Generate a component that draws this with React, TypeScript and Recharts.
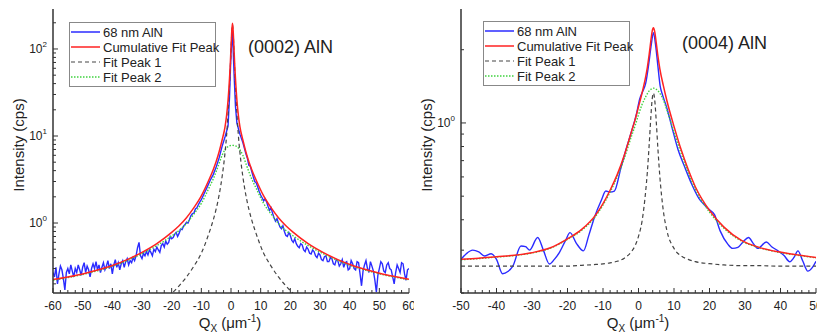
import React from "react";
import { LineChart, Line, XAxis, YAxis } from "recharts";

// ---- (0002) AlN panel ----
const fitAX = [-60, -55, -50, -45, -40, -35, -30, -25, -20, -17.5, -15, -12.5, -10, -7.5, -6, -5, -4, -3, -2, -1.5, -1, -0.5, -0.25, 0, 0.25, 0.5, 0.75, 1, 1.25, 1.5, 2, 2.5, 3, 4, 5, 6, 7, 8.5, 11, 13.5, 16, 18.5, 21, 26, 31, 36, 41, 46, 51, 56, 60];
const fitAPeak1 = [0.026, 0.03, 0.036, 0.043, 0.05, 0.062, 0.082, 0.11, 0.155, 0.19, 0.24, 0.32, 0.45, 0.75, 1.08, 1.45, 2.1, 3.4, 6.5, 10, 18, 38, 58, 95, 150, 190, 150, 95, 58, 38, 18, 10, 6.5, 3.4, 2.1, 1.45, 1.08, 0.75, 0.45, 0.32, 0.24, 0.19, 0.155, 0.11, 0.082, 0.062, 0.05, 0.043, 0.036, 0.03, 0.027];
const fitAPeak2 = [0.219, 0.236, 0.256, 0.283, 0.318, 0.37, 0.445, 0.55, 0.71, 0.82, 0.99, 1.27, 1.68, 2.5, 3.2, 3.9, 4.85, 6.0, 6.95, 7.3, 7.55, 7.7, 7.75, 7.78, 7.8, 7.8, 7.8, 7.78, 7.75, 7.7, 7.55, 7.3, 6.95, 6.0, 4.85, 3.9, 3.2, 2.5, 1.68, 1.27, 0.99, 0.82, 0.71, 0.55, 0.445, 0.37, 0.318, 0.283, 0.256, 0.236, 0.222];
const fitACum = [0.224, 0.24, 0.26, 0.288, 0.325, 0.38, 0.46, 0.58, 0.78, 0.93, 1.15, 1.5, 2.05, 3.1, 4.1, 5.1, 6.6, 9.0, 12.8, 17, 25.5, 46, 66, 103, 158, 198, 158, 103, 66, 46, 25.5, 17, 12.8, 9.0, 6.6, 5.1, 4.1, 3.1, 2.05, 1.5, 1.15, 0.93, 0.78, 0.58, 0.46, 0.38, 0.325, 0.288, 0.26, 0.24, 0.226];

const dataAX = [
  -60, -59.5, -59, -58.5, -58, -57.5, -57, -56.5, -56, -55.5,
  -55, -54.5, -54, -53.5, -53, -52.5, -52, -51.5, -51, -50.5,
  -50, -49.5, -49, -48.5, -48, -47.5, -47, -46.5, -46, -45.5,
  -45, -44.5, -44, -43.5, -43, -42.5, -42, -41.5, -41, -40.5,
  -40, -39.5, -39, -38.5, -38, -37.5, -37, -36.5, -36, -35.5,
  -35, -34.5, -34, -33.5, -33, -32.5, -32, -31.5, -31, -30.5,
  -30, -29.5, -29, -28.5, -28, -27.5, -27, -26.5, -26, -25.5,
  -25, -24.5, -24, -23.5, -23, -22.5, -22, -21.5, -21, -20.5,
  -20, -19.5, -19, -18.5, -18, -17.5, -17, -16.5, -16, -15.5,
  -15, -14.5, -14, -13.5, -13, -12.5, -12, -11.5, -11, -10.5,
  -10, -9, -8, -7, -6, -5, -4, -3, -2, -1,
  -0.5, 0, 0.5, 1, 1.5, 2, 3, 4, 5, 5.5,
  6, 6.5, 7, 7.5, 8, 8.5, 9, 9.5, 10, 10.5,
  11, 11.5, 12, 12.5, 13, 13.5, 14, 14.5, 15, 15.5,
  16, 16.5, 17, 17.5, 18, 18.5, 19, 19.5, 20, 20.5,
  21, 21.5, 22, 22.5, 23, 23.5, 24, 24.5, 25, 25.5,
  26, 26.5, 27, 27.5, 28, 28.5, 29, 29.5, 30, 30.5,
  31, 31.5, 32, 32.5, 33, 33.5, 34, 34.5, 35, 35.5,
  36, 36.5, 37, 37.5, 38, 38.5, 39, 39.5, 40, 40.5,
  41, 41.5, 42, 42.5, 43, 43.5, 44, 44.5, 45, 45.5,
  46, 46.5, 47, 47.5, 48, 48.5, 49, 49.5, 50, 50.5,
  51, 51.5, 52, 52.5, 53, 53.5, 54, 54.5, 55, 55.5,
  56, 56.5, 57, 57.5, 58, 58.5, 59, 59.5, 60,
];
const dataAY = [
  0.27, 0.24, 0.31, 0.2, 0.26, 0.32, 0.29, 0.23, 0.17, 0.27,
  0.3, 0.26, 0.33, 0.28, 0.24, 0.3, 0.27, 0.33, 0.29, 0.25,
  0.31, 0.35, 0.27, 0.32, 0.29, 0.24, 0.3, 0.34, 0.3, 0.36,
  0.29, 0.33, 0.27, 0.31, 0.35, 0.29, 0.32, 0.37, 0.3, 0.34,
  0.26, 0.33, 0.38, 0.31, 0.35, 0.29, 0.34, 0.37, 0.31, 0.36,
  0.39, 0.33, 0.37, 0.35, 0.4, 0.37, 0.42, 0.52, 0.6, 0.42,
  0.39, 0.45, 0.42, 0.47, 0.43, 0.49, 0.46, 0.42, 0.5, 0.47,
  0.53, 0.49, 0.46, 0.55, 0.58, 0.53, 0.62, 0.57, 0.6, 0.7,
  0.66, 0.68, 0.74, 0.78, 0.7, 0.76, 0.85, 0.84, 0.92, 0.96,
  1.02, 1.0, 1.1, 1.22, 1.28, 1.3, 1.45, 1.5, 1.62, 1.75,
  1.85, 2.2, 2.6, 3.1, 3.6, 4.4, 5.6, 7.6, 9.8, 13,
  28, 90, 160, 55, 22, 14, 10.5, 8.4, 6.3, 5.6,
  4.6, 4.5, 3.9, 3.4, 3.0, 2.9, 2.6, 2.3, 2.1, 1.95,
  1.8, 1.9, 1.75, 1.55, 1.4, 1.5, 1.3, 1.15, 1.05, 1.12,
  1.0, 0.9, 0.86, 0.93, 0.8, 0.72, 0.7, 0.78, 0.72, 0.63,
  0.6, 0.66, 0.58, 0.54, 0.52, 0.58, 0.56, 0.49, 0.47, 0.53,
  0.5, 0.45, 0.44, 0.49, 0.47, 0.42, 0.4, 0.45, 0.43, 0.38,
  0.37, 0.41, 0.42, 0.36, 0.36, 0.4, 0.39, 0.34, 0.33, 0.38,
  0.37, 0.32, 0.34, 0.38, 0.31, 0.35, 0.36, 0.29, 0.3, 0.37,
  0.34, 0.3, 0.29, 0.36, 0.35, 0.26, 0.19, 0.28, 0.33, 0.37,
  0.3, 0.27, 0.36, 0.32, 0.28, 0.22, 0.16, 0.25, 0.3, 0.36,
  0.34, 0.28, 0.27, 0.33, 0.35, 0.3, 0.29, 0.24, 0.2, 0.27,
  0.33, 0.3, 0.27, 0.35, 0.34, 0.26, 0.22, 0.29, 0.3,
];

// ---- (0004) AlN panel ----
const fitBX = [-50, -45, -40, -35, -30, -25, -20, -16, -12, -8, -6, -4, -2, -1, 0, 1, 2, 2.5, 3, 3.5, 3.8, 4.2, 4.6, 5, 5.5, 6, 7, 8, 10, 12, 14, 16, 20, 24, 29, 34, 39, 44, 50];
const fitBPeak1 = [0.258, 0.258, 0.258, 0.258, 0.258, 0.258, 0.258, 0.26, 0.262, 0.266, 0.27, 0.278, 0.296, 0.312, 0.342, 0.395, 0.52, 0.63, 0.81, 1.07, 1.23, 1.327, 1.23, 1.015, 0.77, 0.606, 0.435, 0.361, 0.305, 0.284, 0.275, 0.269, 0.264, 0.261, 0.259, 0.259, 0.258, 0.258, 0.258];
const fitBPeak2 = [0.274, 0.277, 0.281, 0.285, 0.292, 0.305, 0.332, 0.362, 0.415, 0.52, 0.6, 0.715, 0.88, 0.97, 1.08, 1.19, 1.28, 1.32, 1.355, 1.375, 1.385, 1.39, 1.385, 1.375, 1.355, 1.325, 1.245, 1.13, 0.92, 0.75, 0.625, 0.535, 0.43, 0.37, 0.327, 0.307, 0.295, 0.287, 0.279];
const fitBCum = [0.275, 0.278, 0.282, 0.286, 0.293, 0.306, 0.334, 0.365, 0.42, 0.529, 0.613, 0.736, 0.919, 1.025, 1.165, 1.328, 1.543, 1.693, 1.908, 2.188, 2.358, 2.46, 2.358, 2.133, 1.868, 1.674, 1.423, 1.234, 0.968, 0.777, 0.643, 0.547, 0.437, 0.374, 0.329, 0.308, 0.296, 0.288, 0.28];

const dataBX = [-50, -48.5, -46.7, -45, -43.4, -41.5, -40, -38.3, -36.8, -35.4, -33.1, -31.8, -30.7, -28.4, -26.8, -25.1, -23.7, -22.3, -20.5, -19.3, -17.5, -15.5, -14, -12.4, -10.5, -9.2, -8, -6.8, -5, -3.5, -2, -0.5, 0.3, 1.2, 2, 3, 3.6, 4.2, 4.8, 5.4, 6.1, 6.8, 8, 9.5, 11.1, 13, 15, 17, 18.6, 20, 21.4, 23, 25.2, 26.5, 28, 29.5, 31, 32.3, 33.6, 36, 37.5, 39.3, 41, 42.6, 43.8, 44.9, 46.3, 47.7, 49, 50];
const dataBY = [0.275, 0.29, 0.3, 0.295, 0.284, 0.29, 0.275, 0.24, 0.245, 0.258, 0.312, 0.31, 0.3, 0.338, 0.3, 0.263, 0.275, 0.293, 0.33, 0.354, 0.32, 0.298, 0.345, 0.41, 0.48, 0.525, 0.52, 0.525, 0.65, 0.78, 0.92, 1.1, 1.25, 1.35, 1.45, 1.8, 2.1, 2.35, 2.1, 1.75, 1.42, 1.3, 1.15, 0.95, 0.78, 0.66, 0.56, 0.49, 0.46, 0.44, 0.42, 0.36, 0.317, 0.305, 0.308, 0.325, 0.338, 0.32, 0.305, 0.324, 0.31, 0.298, 0.285, 0.269, 0.28, 0.298, 0.27, 0.246, 0.255, 0.27];

const xMajorsA = [-60, -50, -40, -30, -20, -10, 0, 10, 20, 30, 40, 50, 60];
const xMajorsB = [-50, -40, -30, -20, -10, 0, 10, 20, 30, 40, 50];
const yMajors = [1, 10, 100];
const legendLabels = ["68 nm AlN", "Cumulative Fit Peak", "Fit Peak 1", "Fit Peak 2"];

const AXIS_COLOR = "#333";
const TEXT_COLOR = "#222";
const FONT = "'Liberation Sans', Arial, sans-serif";
const BLUE = "#2b2bff";
const RED = "#ff2222";
const GREEN = "#3fd23f";
const DASHED = "#444";

const legendStyles = [
  { color: BLUE, dash: undefined, w: 1.5 },
  { color: RED, dash: undefined, w: 1.5 },
  { color: DASHED, dash: "4 3", w: 1.2 },
  { color: GREEN, dash: "1.5 1.5", w: 1.4 },
];

const toRows = (xs: number[], ys: number[]) => xs.map((x, i) => ({ x, y: ys[i] }));

const stepTicks = (lo: number, hi: number, step: number) => {
  const out: number[] = [];
  for (let v = lo; v <= hi + 1e-9; v += step) out.push(Math.round(v * 100) / 100);
  return out;
};

const logTicks = (lo: number, hi: number) => {
  const out: number[] = [];
  for (const dec of [0.1, 1, 10, 100]) {
    for (let m = 1; m <= 9; m++) {
      const v = +(dec * m).toPrecision(3);
      if (v >= lo && v <= hi) out.push(v);
    }
  }
  return out;
};

const makeXTick = (side: "bottom" | "top", majors: number[]) => (props: any) => {
  const { x, y, payload } = props;
  const v = payload.value;
  const major = majors.includes(v);
  const len = major ? 5 : 3;
  const dir = side === "bottom" ? -1 : 1;
  return (
    <g>
      <line x1={x} x2={x} y1={y} y2={y + dir * len} stroke={AXIS_COLOR} strokeWidth={1} />
      {side === "bottom" && major && (
        <text x={x} y={y + 17} textAnchor="middle" fontSize={12} fontFamily={FONT} fill={TEXT_COLOR}>
          {v}
        </text>
      )}
    </g>
  );
};

const makeYTick = (side: "left" | "right", majors: number[]) => (props: any) => {
  const { x, y, payload } = props;
  const v = payload.value;
  const major = majors.includes(v);
  const len = major ? 5 : 3;
  const dir = side === "left" ? 1 : -1;
  return (
    <g>
      <line x1={x} x2={x + dir * len} y1={y} y2={y} stroke={AXIS_COLOR} strokeWidth={1} />
      {side === "left" && major && (
        <text x={x - 6} y={y + 4} textAnchor="end" fontSize={12} fontFamily={FONT} fill={TEXT_COLOR}>
          10
          <tspan dy={-6} fontSize={8}>
            {Math.round(Math.log10(v))}
          </tspan>
        </text>
      )}
    </g>
  );
};

interface PanelProps {
  width: number;
  yAxisWidth: number;
  marginRight: number;
  xDomain: [number, number];
  xStep: number;
  xMajors: number[];
  yDomain: [number, number];
  fitX: number[];
  peak1: number[];
  peak2: number[];
  cum: number[];
  dataX: number[];
  dataY: number[];
  smooth: boolean;
}

function Panel(p: PanelProps) {
  const xTicks = stepTicks(p.xDomain[0], p.xDomain[1], p.xStep);
  const yTicks = logTicks(p.yDomain[0], p.yDomain[1]);
  const axisLine = { stroke: AXIS_COLOR, strokeWidth: 1.5 };
  return (
    <LineChart width={p.width} height={333} margin={{ top: 9, right: p.marginRight, bottom: 0, left: 0 }}>
      <XAxis xAxisId="b" dataKey="x" type="number" domain={p.xDomain} ticks={xTicks} interval={0}
        allowDataOverflow height={40} tickSize={0} tickMargin={0} tickLine={false} axisLine={axisLine}
        tick={makeXTick("bottom", p.xMajors)} />
      <XAxis xAxisId="t" orientation="top" dataKey="x" type="number" domain={p.xDomain} ticks={xTicks} interval={0}
        allowDataOverflow height={0} tickSize={0} tickMargin={0} tickLine={false} axisLine={axisLine}
        tick={makeXTick("top", p.xMajors)} />
      <YAxis yAxisId="l" type="number" scale="log" domain={p.yDomain} ticks={yTicks} interval={0}
        allowDataOverflow width={p.yAxisWidth} tickSize={0} tickMargin={0} tickLine={false} axisLine={axisLine}
        tick={makeYTick("left", yMajors)} />
      <YAxis yAxisId="r" orientation="right" type="number" scale="log" domain={p.yDomain} ticks={yTicks} interval={0}
        allowDataOverflow width={0} tickSize={0} tickMargin={0} tickLine={false} axisLine={axisLine}
        tick={makeYTick("right", yMajors)} />
      <Line xAxisId="b" yAxisId="l" data={toRows(p.dataX, p.dataY)} dataKey="y"
        type={p.smooth ? "monotone" : "linear"} stroke={BLUE} strokeWidth={1.4} dot={false} isAnimationActive={false} />
      <Line xAxisId="b" yAxisId="l" data={toRows(p.fitX, p.peak2)} dataKey="y" type="monotone"
        stroke={GREEN} strokeWidth={1.4} strokeDasharray="1.5 1.5" dot={false} isAnimationActive={false} />
      <Line xAxisId="b" yAxisId="l" data={toRows(p.fitX, p.peak1)} dataKey="y" type="monotone"
        stroke={DASHED} strokeWidth={1.2} strokeDasharray="4 3" dot={false} isAnimationActive={false} />
      <Line xAxisId="b" yAxisId="l" data={toRows(p.fitX, p.cum)} dataKey="y" type="monotone"
        stroke={RED} strokeWidth={1.5} dot={false} isAnimationActive={false} />
    </LineChart>
  );
}

function LegendBox({ x, y }: { x: number; y: number }) {
  return (
    <g transform={`translate(${x},${y})`}>
      <rect x={0.5} y={0.5} width={146} height={64} fill="#fff" stroke="#888" strokeWidth={1} />
      {legendLabels.map((label, i) => {
        const s = legendStyles[i];
        const cy = 10 + i * 15;
        return (
          <g key={label}>
            <line x1={2} x2={31} y1={cy} y2={cy} stroke={s.color} strokeWidth={s.w} strokeDasharray={s.dash} />
            <text x={34} y={cy + 4.5} fontSize={13} fontFamily={FONT} fill={TEXT_COLOR}>
              {label}
            </text>
          </g>
        );
      })}
    </g>
  );
}

function XLabel({ cx }: { cx: number }) {
  return (
    <text x={cx} y={328} textAnchor="middle" fontSize={15} fontFamily={FONT} fill={TEXT_COLOR}>
      Q<tspan fontSize={10} dy={4}>X</tspan>
      <tspan dy={-4}> (μm</tspan>
      <tspan fontSize={10} dy={-6}>-1</tspan>
      <tspan dy={6}>)</tspan>
    </text>
  );
}

function YLabel({ cx, cy }: { cx: number; cy: number }) {
  return (
    <text transform={`translate(${cx},${cy}) rotate(-90)`} textAnchor="middle" dy={5}
      fontSize={15} fontFamily={FONT} fill={TEXT_COLOR}>
      Intensity (cps)
    </text>
  );
}

export default function App() {
  return (
    <div style={{ position: "absolute", left: 0, top: 0, width: 817, height: 333, background: "#fff", overflow: "hidden" }}>
      <div style={{ position: "absolute", left: 0, top: 0 }}>
        <Panel width={416} yAxisWidth={53} marginRight={7} xDomain={[-60, 60]} xStep={2.5} xMajors={xMajorsA}
          yDomain={[0.157, 288]} fitX={fitAX} peak1={fitAPeak1} peak2={fitAPeak2} cum={fitACum}
          dataX={dataAX} dataY={dataAY} smooth={false} />
      </div>
      <div style={{ position: "absolute", left: 414, top: 0, background: "#fff" }}>
        <Panel width={403} yAxisWidth={47} marginRight={1} xDomain={[-50, 50]} xStep={2} xMajors={xMajorsB}
          yDomain={[0.2, 2.94]} fitX={fitBX} peak1={fitBPeak1} peak2={fitBPeak2} cum={fitBCum}
          dataX={dataBX} dataY={dataBY} smooth={true} />
      </div>
      <svg width={817} height={333} style={{ position: "absolute", left: 0, top: 0, pointerEvents: "none" }}>
        <LegendBox x={69} y={22} />
        <LegendBox x={483} y={21} />
        <text x={248} y={53} fontSize={18} fontFamily={FONT} fill={TEXT_COLOR}>(0002) AlN</text>
        <text x={682} y={49} fontSize={18} fontFamily={FONT} fill={TEXT_COLOR}>(0004) AlN</text>
        <YLabel cx={19} cy={145} />
        <YLabel cx={427} cy={145} />
        <XLabel cx={230} />
        <XLabel cx={638} />
      </svg>
    </div>
  );
}
